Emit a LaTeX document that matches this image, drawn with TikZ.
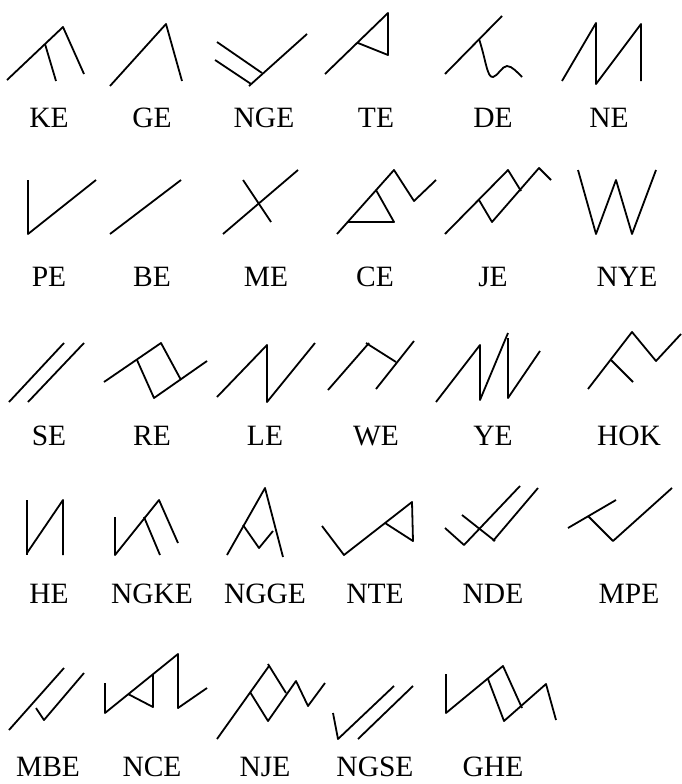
\documentclass[tikz,border=0pt]{standalone}
\usepackage{fontspec}
\setmainfont{Liberation Serif}
\begin{document}
\begin{tikzpicture}[x=1pt,y=-1pt,
  glyph/.style={line width=1.8pt, line join=round},
  lbl/.style={anchor=base, inner sep=0pt, font=\fontsize{29.5}{30}\selectfont}]
\useasboundingbox (0,0) rectangle (682,784);
% ---------- row 1 ----------
\draw[glyph] (7,80)--(63,27)--(84,74); \draw[glyph] (45,44)--(56,81);
\draw[glyph] (110,86)--(166,24)--(182,81);
\draw[glyph] (217,42)--(262,73); \draw[glyph] (215,60)--(251,84); \draw[glyph] (249,86)--(307,34);
\draw[glyph] (325,74)--(388,13)--(388,55)--(358,43);
\draw[glyph] (445,74)--(502,16);
\draw[glyph] (479,39) .. controls (486,60) and (487,78) .. (493,77) .. controls (498,76) and (502,66) .. (507,66) .. controls (512,66) and (518,73) .. (522,77);
\draw[glyph] (562,81)--(596,23)--(596,84)--(641,24)--(641,81);
\node[lbl] (ke) at (49,127) {KE};
\node[lbl] (ge) at (152,127) {GE};
\node[lbl] (nge) at (264,127) {NGE};
\node[lbl] (te) at (376,127) {TE};
\node[lbl] (de) at (493,127) {DE};
\node[lbl] (ne) at (609,127) {NE};
% ---------- row 2 ----------
\draw[glyph] (28,180)--(28,234)--(96,180);
\draw[glyph] (110,234)--(181,180);
\draw[glyph] (223,234)--(298,170); \draw[glyph] (243,180)--(271,222);
\draw[glyph] (337,234)--(394,170)--(414,201)--(436,180); \draw[glyph] (376,190)--(394,222)--(348,222);
\draw[glyph] (445,234)--(508,170)--(521,191); \draw[glyph] (479,200)--(492,222)--(539,168)--(551,180);
\draw[glyph] (578,170)--(596,234)--(616,180)--(632,234)--(656,170);
\node[lbl] (pe) at (49,286) {PE};
\node[lbl] (be) at (152,286) {BE};
\node[lbl] (me) at (266,286) {ME};
\node[lbl] (ce) at (375,286) {CE};
\node[lbl] (je) at (493,286) {JE};
\node[lbl] (nye) at (627,286) {NYE};
% ---------- row 3 ----------
\draw[glyph] (9,402)--(64,343); \draw[glyph] (28,402)--(84,343);
\draw[glyph] (104,382)--(161,343)--(181,380); \draw[glyph] (137,360)--(154,398)--(207,361);
\draw[glyph] (217,397)--(267,345)--(267,402)--(315,343);
\draw[glyph] (328,390)--(369,343); \draw[glyph] (366,343)--(396,362); \draw[glyph] (376,389)--(414,341);
\draw[glyph] (436,402)--(480,345)--(480,400)--(508,333); \draw[glyph] (508,338)--(508,398)--(540,351);
\draw[glyph] (588,389)--(632,332)--(656,361)--(681,334); \draw[glyph] (611,360)--(633,382);
\node[lbl] (se) at (49,445) {SE};
\node[lbl] (re) at (152,445) {RE};
\node[lbl] (le) at (265,445) {LE};
\node[lbl] (we) at (376,445) {WE};
\node[lbl] (ye) at (493,445) {YE};
\node[lbl] (hok) at (629,445) {HOK};
% ---------- row 4 ----------
\draw[glyph] (27,500)--(27,555); \draw[glyph] (27,553)--(63,500)--(63,555);
\draw[glyph] (115,517)--(115,555)--(159,500)--(178,543); \draw[glyph] (144,517)--(160,555);
\draw[glyph] (227,555)--(265,488)--(283,557); \draw[glyph] (243,525)--(259,548)--(273,531);
\draw[glyph] (322,526)--(344,555)--(412,502)--(413,541)--(385,523);
\draw[glyph] (445,528)--(464,545)--(520,486); \draw[glyph] (462,515)--(495,541); \draw[glyph] (493,541)--(538,488);
\draw[glyph] (568,528)--(616,500); \draw[glyph] (588,516)--(613,541)--(672,488);
\node[lbl] (he) at (49,603) {HE};
\node[lbl] (ngke) at (152,603) {NGKE};
\node[lbl] (ngge) at (265,603) {NGGE};
\node[lbl] (nte) at (375,603) {NTE};
\node[lbl] (nde) at (493,603) {NDE};
\node[lbl] (mpe) at (629,603) {MPE};
% ---------- row 5 ----------
\draw[glyph] (9,730)--(64,668); \draw[glyph] (36,708)--(44,720)--(84,673);
\draw[glyph] (105,683)--(105,713)--(178,654)--(178,708)--(207,688); \draw[glyph] (153,674)--(153,707)--(128,694);
\draw[glyph] (217,739)--(269,666); \draw[glyph] (268,664)--(286,693);
\draw[glyph] (250,692)--(268,721)--(296,681)--(308,706)--(325,683);
\draw[glyph] (333,713)--(338,739)--(394,686); \draw[glyph] (358,739)--(413,686);
\draw[glyph] (446,674)--(446,713)--(503,666)--(522,708); \draw[glyph] (488,679)--(504,721)--(546,684)--(556,720);
\node[lbl] (mbe) at (48,776) {MBE};
\node[lbl] (nce) at (152,776) {NCE};
\node[lbl] (nje) at (265,776) {NJE};
\node[lbl] (ngse) at (375,776) {NGSE};
\node[lbl] (ghe) at (493,776) {GHE};
\end{tikzpicture}
\end{document}
